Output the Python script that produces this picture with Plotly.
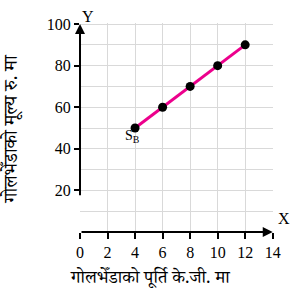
import plotly.graph_objects as go

quantity = [4, 6, 8, 10, 12]
price = [50, 60, 70, 80, 90]
x_ticks = [0, 2, 4, 6, 8, 10, 12, 14]
y_ticks = [20, 40, 60, 80, 100]
x_title = "गोलभेँडाको पूर्ति के.जी. मा"
y_title = "गोलभेँडाको मूल्य रु. मा"
curve_label = "S<sub>B</sub>"

serif = "Liberation Serif, Times New Roman, serif"
deva = "Noto Serif Devanagari, Noto Sans Devanagari, Lohit Devanagari, Mangal, serif"

fig = go.Figure()
fig.add_trace(go.Scatter(
    x=quantity, y=price, mode="lines+markers",
    line=dict(color="#EC008C", width=3),
    marker=dict(color="black", size=9),
    showlegend=False, cliponaxis=False,
))

fig.update_xaxes(
    range=[0, 14.02], tickvals=x_ticks, showgrid=True, gridcolor="#d9d9d9", gridwidth=1,
    zeroline=False, showline=False, ticks="outside", ticklen=6, tickwidth=1.5, tickcolor="black",
    tickfont=dict(family=serif, size=16, color="black"), automargin=False,
)
fig.update_yaxes(
    range=[0, 100.5], tickvals=y_ticks, showgrid=True, gridcolor="#d9d9d9", gridwidth=1,
    zeroline=False, showline=False, ticks="outside", ticklen=5, tickwidth=1.5, tickcolor="black",
    tickfont=dict(family=serif, size=16, color="black"), automargin=False,
    minor=dict(tickvals=[10, 30, 50, 70, 90], showgrid=True, gridcolor="#d9d9d9", ticks=""),
)

annotations = [
    dict(x=14, y=0, ax=0, ay=0, xref="x", yref="y", axref="x", ayref="y",
         text="", showarrow=True, arrowhead=2, arrowsize=1, arrowwidth=2, arrowcolor="black"),
    dict(x=0, y=100, ax=0, ay=17, xref="x", yref="y", axref="x", ayref="y",
         text="", showarrow=True, arrowhead=2, arrowsize=1, arrowwidth=2, arrowcolor="black"),
    dict(x=0, y=100, xref="x", yref="y", text="Y", showarrow=False,
         xshift=8, yshift=8, font=dict(family=serif, size=16, color="black")),
    dict(x=14, y=0, xref="x", yref="y", text="X", showarrow=False,
         xshift=11, yshift=14, font=dict(family=serif, size=16, color="black")),
    dict(x=quantity[0], y=price[0], xref="x", yref="y", text=curve_label, showarrow=False,
         xshift=-3, yshift=-8, font=dict(family=serif, size=14, color="black")),
    dict(x=0.5, y=0, xref="paper", yref="paper", text=x_title, showarrow=False,
         xanchor="center", yanchor="middle",
         xshift=-26, yshift=-48, font=dict(family=deva, size=18, color="black")),
    dict(x=0, y=0.5, xref="paper", yref="paper", text=y_title, showarrow=False, textangle=-90,
         xanchor="center", yanchor="middle",
         xshift=-67, yshift=-2, font=dict(family=deva, size=19, color="black")),
]
fig.update_layout(
    width=292, height=293,
    margin=dict(l=80, r=19, t=23, b=61, autoexpand=False),
    plot_bgcolor="white", paper_bgcolor="white",
    annotations=annotations,
)

fig.write_html("out.html", config={"displayModeBar": False},
               post_script="document.body.style.margin='0px';")
